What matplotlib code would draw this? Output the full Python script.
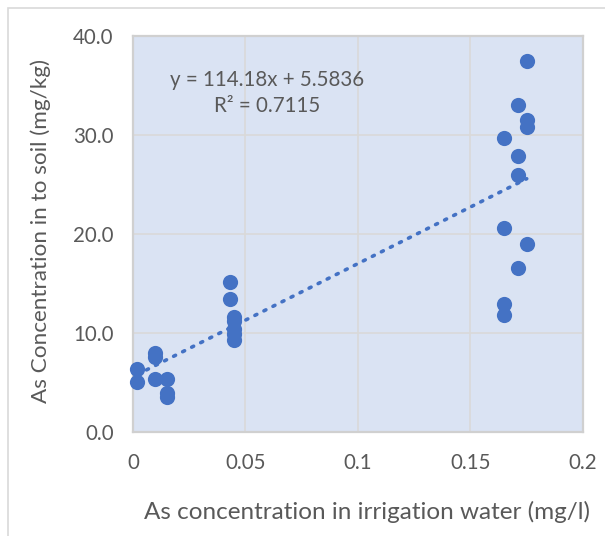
import numpy as np
import matplotlib
matplotlib.use('Agg')
import matplotlib.pyplot as plt
from matplotlib.patches import Rectangle

# ==================== DATA ====================
water_as = [0.002, 0.002,
            0.010, 0.010, 0.010,
            0.015, 0.015, 0.015,
            0.043, 0.043,
            0.045, 0.045, 0.045, 0.045, 0.045,
            0.165, 0.165, 0.165, 0.165,
            0.171, 0.171, 0.171, 0.171,
            0.175, 0.175, 0.175, 0.175]
soil_as = [6.4, 5.0,
           8.0, 7.6, 5.4,
           5.4, 3.9, 3.5,
           15.1, 13.4,
           11.6, 11.2, 10.4, 9.9, 9.3,
           29.7, 20.6, 12.9, 11.8,
           33.0, 27.9, 25.9, 16.6,
           37.4, 31.5, 30.8, 19.0]

slope = 114.18
intercept = 5.5836
r_squared = 0.7115

x_ticks = [0, 0.05, 0.1, 0.15, 0.2]
x_tick_labels = ['0', '0.05', '0.1', '0.15', '0.2']
y_ticks = [0, 10, 20, 30, 40]

# ==================== STYLE ====================
BLUE = '#4472C4'
TEXT = '#595959'
PLOT_BG = '#DAE3F3'
GRID = '#D9D9D9'
plt.rcParams['font.family'] = ['Lato', 'DejaVu Sans']

fig = plt.figure(figsize=(6.05, 5.36), dpi=100)
ax = fig.add_axes([0.2198, 0.194, 0.7438, 0.7394])

# outer chart frame (cut off at right/bottom like the source)
fig.patches.append(Rectangle((8 / 605, -0.05), 1.1, 1 - 8 / 536 + 0.05,
                             transform=fig.transFigure, fill=False,
                             edgecolor='#D9D9D9', linewidth=1.2))

ax.set_facecolor(PLOT_BG)
ax.scatter(water_as, soil_as, s=120, color=BLUE, zorder=3, linewidths=0,
           clip_on=False)

# linear trendline over the data range
xs = np.array([min(water_as), max(water_as)])
ax.plot(xs, slope * xs + intercept, linestyle=(0, (0.6, 2.2)), color=BLUE,
        linewidth=2.6, dash_capstyle='round', zorder=2)

ax.text(0.0595, 34.2, f'y = {slope}x + {intercept}\nR² = {r_squared}',
        ha='center', va='center', fontsize=14.8, color=TEXT, linespacing=1.35)

ax.set_xlim(0, 0.2)
ax.set_ylim(0, 40)
ax.set_xticks(x_ticks)
ax.set_xticklabels(x_tick_labels)
ax.set_yticks(y_ticks)
ax.set_yticklabels([f'{v:.1f}' for v in y_ticks])
ax.tick_params(length=0, labelsize=14.8, labelcolor=TEXT)
ax.tick_params(axis='x', pad=15)
ax.tick_params(axis='y', pad=14)

ax.grid(color=GRID, linewidth=1.2)
ax.set_axisbelow(True)
for side in ['left', 'right', 'top', 'bottom']:
    ax.spines[side].set_color('#D0D0D0')
    ax.spines[side].set_linewidth(1.6)

ax.set_xlabel('As concentration in irrigation water (mg/l)', fontsize=17.5,
              color=TEXT, va='center')
ax.set_ylabel('As Concentration in to soil (mg/kg)', fontsize=16.2,
              color=TEXT, va='center')
ax.xaxis.set_label_coords(0.52, -0.202)
ax.yaxis.set_label_coords(-0.204, 0.507)

fig.savefig('out.png', dpi=100)
